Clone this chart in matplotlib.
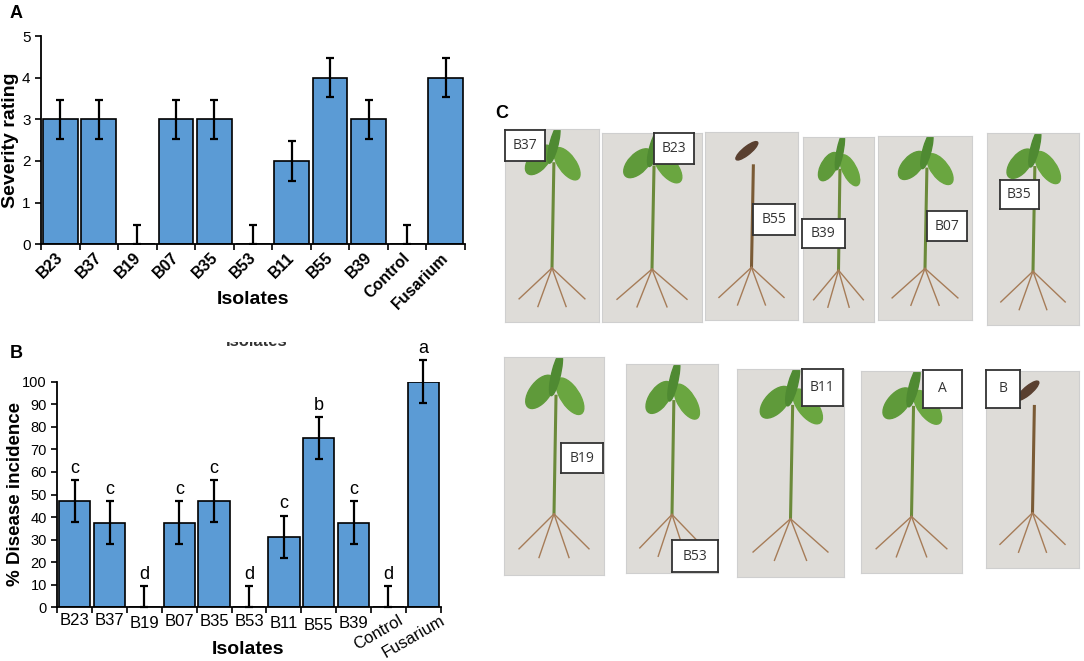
import numpy as np
import matplotlib.pyplot as plt
from matplotlib.patches import Rectangle, Ellipse
from matplotlib.transforms import ScaledTranslation

plt.rcParams['font.family'] = ['Liberation Sans', 'DejaVu Sans']

isolates = ['B23', 'B37', 'B19', 'B07', 'B35', 'B53', 'B11', 'B55', 'B39', 'Control', 'Fusarium']
severity = [3, 3, 0, 3, 3, 0, 2, 4, 3, 0, 4]
severity_err = [0.47] * 11
incidence = [47, 37.5, 0, 37.5, 47, 0, 31.2, 75, 37.5, 0, 100]
incidence_err = [9.4] * 11
letters = ['c', 'c', 'd', 'c', 'c', 'd', 'c', 'b', 'c', 'd', 'a']

# panel C: photo tiles (label, photo box px, label box px, healthy?)
photos = [
    ('B37', (505, 599, 129, 322), (505, 545, 130, 161), True),
    ('B23', (602, 702, 133, 322), (654, 694, 133, 164), True),
    ('B55', (705, 798, 132, 320), (753, 795, 204, 235), False),
    ('B39', (803, 874, 137, 322), (802, 845, 219, 248), True),
    ('B07', (878, 972, 136, 320), (927, 967, 211, 241), True),
    ('B35', (987, 1079, 133, 325), (1000, 1039, 180, 209), True),
    ('B19', (504, 604, 357, 575), (561, 603, 443, 473), True),
    ('B53', (626, 718, 364, 573), (672, 718, 540, 572), True),
    ('B11', (737, 844, 369, 577), (802, 843, 369, 406), True),
    ('A', (861, 962, 371, 573), (923, 962, 370, 408), True),
    ('B', (986, 1079, 371, 568), (986, 1020, 370, 408), False),
]

W, H = 1084, 661
BLUE = '#5B9BD5'
NARROW = ['Liberation Sans Narrow', 'Liberation Sans', 'DejaVu Sans']


def px(x0, x1, y0, y1):
    return [x0 / W, 1 - y1 / H, (x1 - x0) / W, (y1 - y0) / H]


fig = plt.figure(figsize=(W / 100, H / 100), dpi=100)
x = np.arange(len(isolates))

# ---------------- panel A ----------------
axA = fig.add_axes(px(41, 465, 36, 244.3))
axA.bar(x, severity, width=0.9, color=BLUE, edgecolor='black', linewidth=1.2, zorder=2)
lowA = [0 if v == 0 else e for v, e in zip(severity, severity_err)]
axA.errorbar(x, severity, yerr=[lowA, severity_err], fmt='none', ecolor='black',
             elinewidth=1.6, capsize=3, capthick=1.6, zorder=3)
axA.set_xlim(-0.5, 10.5)
axA.set_ylim(0, 5)
axA.set_yticks(range(6))
axA.set_xticks(np.arange(-0.5, 11, 1))
axA.set_xticklabels([])
axA.set_xticks(x, minor=True)
axA.set_xticklabels(isolates, minor=True, rotation=45, ha='right', va='top',
                    fontsize=11.5, fontweight='bold')
axA.tick_params(axis='x', which='minor', length=0, pad=4)
axA.tick_params(axis='x', which='major', length=4, width=1.2, direction='out')
axA.tick_params(axis='y', length=4, width=1.2, labelsize=11)
for lbl in axA.get_xticklabels(minor=True):
    lbl.set_transform(lbl.get_transform() + ScaledTranslation(6 / 100, 0, fig.dpi_scale_trans))
for s in ['top', 'right']:
    axA.spines[s].set_visible(False)
for s in ['left', 'bottom']:
    axA.spines[s].set_linewidth(1.3)
axA.set_ylabel('Severity rating', fontsize=14, fontweight='bold')
axA.yaxis.set_label_coords(-0.052, 0.5)
fig.text(253 / W, 1 - 300 / H, 'Isolates', fontsize=14, fontweight='bold',
         ha='center', va='center')
fig.text(10 / W, 1 - 13 / H, 'A', fontsize=13, fontweight='bold', ha='left', va='center')

# ---------------- panel B ----------------
axB = fig.add_axes(px(57.3, 440.7, 381.7, 607.3))
axB.bar(x, incidence, width=0.9, color=BLUE, edgecolor='black', linewidth=1.2, zorder=2)
lowB = [0 if v == 0 else e for v, e in zip(incidence, incidence_err)]
axB.errorbar(x, incidence, yerr=[lowB, incidence_err], fmt='none', ecolor='black',
             elinewidth=1.6, capsize=3, capthick=1.6, zorder=3, clip_on=False)
for xi, v, e, t in zip(x, incidence, incidence_err, letters):
    axB.text(xi, v + e + 1.5, t, ha='center', va='bottom', fontsize=13, clip_on=False)
axB.set_xlim(-0.5, 10.5)
axB.set_ylim(0, 100)
axB.set_yticks(range(0, 101, 10))
axB.set_xticks(np.arange(-0.5, 11, 1))
axB.set_xticklabels([])
axB.set_xticks(x, minor=True)
axB.set_xticklabels(isolates, minor=True, fontsize=12, family=NARROW)
axB.tick_params(axis='x', which='minor', length=0, pad=4)
axB.tick_params(axis='x', which='major', length=4, width=1.2, direction='out')
axB.tick_params(axis='y', length=4, width=1.2, labelsize=10.5)
for lbl in axB.get_yticklabels():
    lbl.set_family(NARROW)
pads = [4, 4, 6, 5, 5, 5, 6, 8, 6, 4, 4]
for tk, p in zip(axB.xaxis.get_minor_ticks(), pads):
    tk.set_pad(p)
for lbl in axB.get_xticklabels(minor=True)[9:]:
    lbl.set_rotation(30)
    lbl.set_ha('center')
    lbl.set_transform(lbl.get_transform() + ScaledTranslation(-10 / 100, 0, fig.dpi_scale_trans))
for s in ['top', 'right']:
    axB.spines[s].set_visible(False)
for s in ['left', 'bottom']:
    axB.spines[s].set_linewidth(1.3)
axB.set_ylabel('% Disease incidence', fontsize=13.5, fontweight='bold')
axB.yaxis.set_label_coords(-0.087, 0.5)
fig.text(248 / W, 1 - 650 / H, 'Isolates', fontsize=14, fontweight='bold',
         ha='center', va='center')
fig.text(10 / W, 1 - 353 / H, 'B', fontsize=13, fontweight='bold', ha='left', va='center')

# cut-off leftover axis title above panel B
fig.text(257 / W, 1 - 346 / H, 'Isolates', fontsize=12, fontweight='bold',
         ha='center', va='baseline', color='#333333', zorder=5)
fig.add_artist(Rectangle((220 / W, 1 - 342 / H), 80 / W, 25 / H,
                         transform=fig.transFigure, facecolor='white',
                         edgecolor='none', zorder=10))

# ---------------- panel C ----------------
fig.text(502 / W, 1 - 113 / H, 'C', fontsize=13, fontweight='bold', ha='center', va='center')
for name, pbox, lbox, healthy in photos:
    ax = fig.add_axes(px(*pbox))
    ax.set_xlim(0, 1)
    ax.set_ylim(0, 1)
    ax.set_facecolor('#dedcd8')
    ax.set_xticks([])
    ax.set_yticks([])
    for s in ax.spines.values():
        s.set_color('#cfcfcf')
        s.set_linewidth(0.8)
    stem = '#6b8a3a' if healthy else '#7a5a35'
    ax.plot([0.5, 0.52], [0.28, 0.82], color=stem, lw=2.2)
    for dx in (-0.35, -0.15, 0.15, 0.35):
        ax.plot([0.5, 0.5 + dx], [0.28, 0.05 + abs(dx) * 0.2], color='#a67c58', lw=1.0)
    if healthy:
        ax.add_patch(Ellipse((0.36, 0.84), 0.3, 0.12, angle=20, color='#5f9a3a'))
        ax.add_patch(Ellipse((0.66, 0.82), 0.3, 0.12, angle=-25, color='#6aa640'))
        ax.add_patch(Ellipse((0.52, 0.92), 0.22, 0.08, angle=60, color='#4f8a32'))
    else:
        ax.add_patch(Ellipse((0.45, 0.9), 0.25, 0.05, angle=20, color='#5a4030'))
    lab = fig.add_axes(px(*lbox))
    lab.set_xticks([])
    lab.set_yticks([])
    lab.set_facecolor('white')
    for s in lab.spines.values():
        s.set_color('#333333')
        s.set_linewidth(1.3)
    lab.text(0.5, 0.5, name, ha='center', va='center', fontsize=10, color='#333333',
             family=['Open Sans', 'DejaVu Sans'], transform=lab.transAxes)

fig.savefig('out.png', dpi=100)
